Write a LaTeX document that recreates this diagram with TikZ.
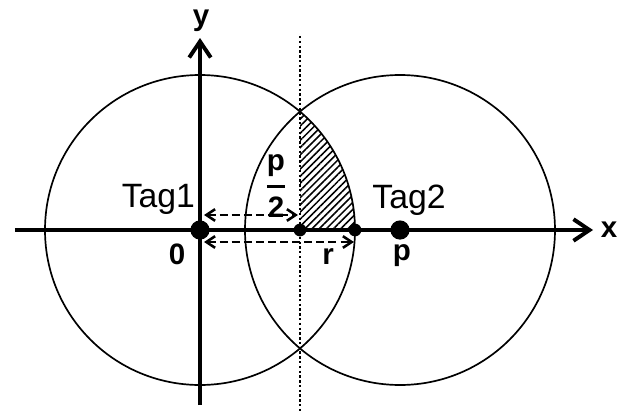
\documentclass[tikz,border=0pt]{standalone}
\usepackage{amsmath}
\usepackage{fontspec}
\setmainfont{Liberation Sans}
\usepackage{tikz}
\usetikzlibrary{arrows.meta, positioning, patterns.meta, calc}

\begin{document}
\begin{tikzpicture}[
    axis/.style={line width=2.8pt, -{Straight Barb[length=4mm, width=5.4mm, line width=2.8pt]}},
    ring/.style={line width=1.2pt},
    meas/.style={line width=1.9pt, dash pattern=on 5.7pt off 2.9pt,
                 {Straight Barb[length=2.2mm, width=2.9mm, line width=1.8pt]}-{Straight Barb[length=2.2mm, width=2.9mm, line width=1.8pt]}},
    dots/.style={line width=1.8pt, dash pattern=on 1.7pt off 1.7pt},
    hatch/.style={pattern={Lines[angle=45, distance=3.6pt, line width=1.1pt]}},
    bigdot/.style={circle, fill, inner sep=0pt, minimum size=4.8mm},
    smalldot/.style={circle, fill, inner sep=0pt, minimum size=3.2mm},
    lbl/.style={font=\bfseries\fontsize{21}{23}\selectfont, inner sep=0pt},
    tag/.style={font=\fontsize{24}{26}\selectfont, inner sep=0pt},
]
\useasboundingbox (-5,-4.55) rectangle (10.7,5.75);

% points on the x axis
\coordinate (tag1c) at (0,0);
\coordinate (tag2c) at (5,0);
\coordinate (midc) at (2.5,0);
\coordinate (rc) at (3.875,0);
\coordinate (top) at (2.5,2.961);

% shaded part of the overlap
\fill[hatch] (midc) -- (top) arc[start angle=49.8, end angle=0, radius=3.875] -- cycle;

% the two ranges
\draw[ring] (tag1c) circle (3.875);
\draw[ring] (tag2c) circle (3.875);

% axes
\coordinate (xl) at (-4.625,0);
\coordinate (xr) at (9.825,0);
\coordinate (yb) at (0,-4.375);
\coordinate (yt) at (0,4.8);
\draw[axis] (xl) -- (xr);
\draw[axis] (yb) -- (yt);
\node[lbl, anchor=base] (xlab) at (10.225,-0.18) {x};
\node[lbl, anchor=base] (ylab) at (0.03,5.1) {y};

% bisector
\coordinate (dtop) at (2.5,4.85);
\coordinate (dbot) at (2.5,-4.55);
\draw[dots] (dtop) -- (dbot);

% distances
\coordinate (h1) at (0.1,0.375);
\coordinate (h2) at (2.45,0.375);
\coordinate (r1) at (0.1,-0.3);
\coordinate (r2) at (3.85,-0.3);
\draw[meas] (h1) -- (h2);
\draw[meas] (r1) -- (r2);

% points
\node[bigdot] (tag1) at (tag1c) {};
\node[bigdot] (tag2) at (tag2c) {};
\node[smalldot] (mid) at (midc) {};
\node[smalldot] (rr) at (rc) {};

% labels
\node[tag, anchor=base east] (t1) at (-0.12,0.575) {Tag1};
\node[tag, anchor=base] (t2) at (5.225,0.55) {Tag2};
\node[lbl, anchor=base] (zero) at (-0.575,-0.85) {0};
\node[lbl, anchor=base] (plab) at (5.05,-0.75) {p};
\node[lbl, anchor=base] (rlab) at (3.2,-0.85) {r};
\node[lbl] (half) at (1.9,1.1) {$\displaystyle{\text{p}\above 2pt\text{2}}$};
\end{tikzpicture}
\end{document}
